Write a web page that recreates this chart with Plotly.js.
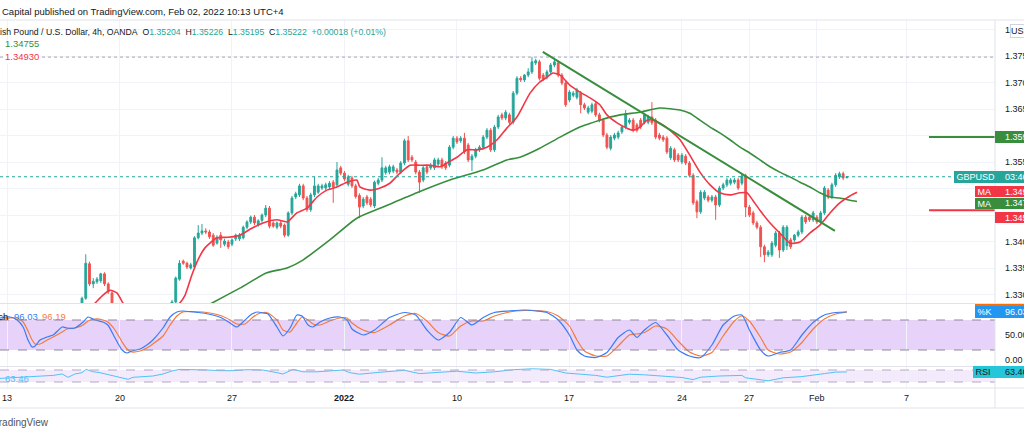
<!DOCTYPE html>
<html><head><meta charset="utf-8">
<script src="https://cdn.plot.ly/plotly-3.0.1.min.js"></script>
<style>html,body{margin:0;padding:0;background:#fff}#chart{width:1024px;height:435px}</style>
</head><body><div id="chart"></div>
<script>
// ---------------- DATA (4h candles, index 0 = first bar of Mon 13 Dec 2021) ----------------
const firstIndex = -1;
const opens = [
1.3255,1.3262,1.3248,1.3235,1.3229,1.3241,1.3254,1.3244,1.3228,1.3219,
1.3232,1.3247,1.3239,1.3225,1.3214,1.3205,1.3221,1.3243,1.3268,1.3259,
1.3251,1.3262,1.3293,1.3358,1.3320,1.3324,1.3326,1.3339,1.3320,1.3303,
1.3278,1.3262,1.3241,1.3225,1.3218,1.3205,1.3219,1.3236,1.3229,1.3247,
1.3252,1.3240,1.3258,1.3266,1.3261,1.3274,1.3286,1.3329,1.3363,1.3359,
1.3350,1.3352,1.3407,1.3416,1.3420,1.3418,1.3412,1.3397,1.3412,1.3395,
1.3399,1.3395,1.3405,1.3405,1.3407,1.3427,1.3437,1.3446,1.3431,1.3440,
1.3450,1.3463,1.3435,1.3427,1.3435,1.3431,1.3412,1.3454,1.3484,1.3488,
1.3505,1.3482,1.3460,1.3488,1.3493,1.3501,1.3501,1.3503,1.3512,1.3507,
1.3539,1.3529,1.3508,1.3520,1.3505,1.3487,1.3467,1.3484,1.3480,1.3467,
1.3510,1.3516,1.3530,1.3531,1.3533,1.3535,1.3531,1.3548,1.3590,1.3559,
1.3550,1.3531,1.3516,1.3541,1.3539,1.3539,1.3546,1.3554,1.3548,1.3544,
1.3578,1.3595,1.3590,1.3595,1.3582,1.3554,1.3561,1.3573,1.3578,1.3597,
1.3610,1.3573,1.3616,1.3639,1.3633,1.3639,1.3625,1.3680,1.3708,1.3705,
1.3714,1.3720,1.3737,1.3739,1.3714,1.3710,1.3720,1.3733,1.3737,1.3714,
1.3699,1.3667,1.3676,1.3672,1.3680,1.3658,1.3644,1.3646,1.3660,1.3639,
1.3629,1.3601,1.3576,1.3595,1.3597,1.3607,1.3616,1.3625,1.3629,1.3620,
1.3629,1.3625,1.3625,1.3635,1.3629,1.3601,1.3597,1.3595,1.3558,1.3573,
1.3563,1.3550,1.3561,1.3548,1.3525,1.3475,1.3456,1.3482,1.3484,1.3478,
1.3484,1.3469,1.3501,1.3507,1.3510,1.3512,1.3516,1.3510,1.3524,1.3465,
1.3454,1.3435,1.3427,1.3390,1.3375,1.3375,1.3393,1.3416,1.3384,1.3392,
1.3403,1.3403,1.3412,1.3418,1.3446,1.3446,1.3441,1.3446,1.3437,1.3454,
1.3497,1.3484,1.3507,1.3522,1.3528,1.35204];
const highs = [
1.3268,1.3270,1.3255,1.3240,1.3246,1.3258,1.3260,1.3249,1.3233,1.3237,
1.3251,1.3252,1.3243,1.3230,1.3219,1.3226,1.3248,1.3274,1.3272,1.3264,
1.3268,1.3296,1.3376,1.3362,1.3331,1.3333,1.3341,1.3342,1.3323,1.3306,
1.3282,1.3266,1.3245,1.3230,1.3222,1.3224,1.3240,1.3241,1.3252,1.3258,
1.3256,1.3262,1.3271,1.3270,1.3278,1.3290,1.3334,1.3365,1.3366,1.3362,
1.3360,1.3410,1.3431,1.3433,1.3425,1.3422,1.3416,1.3412,1.3418,1.3405,
1.3403,1.3406,1.3415,1.3416,1.3430,1.3440,1.3449,1.3450,1.3442,1.3453,
1.3469,1.3467,1.3438,1.3438,1.3439,1.3434,1.3457,1.3486,1.3494,1.3509,
1.3509,1.3486,1.3492,1.3522,1.3509,1.3509,1.3511,1.3514,1.3516,1.3550,
1.3543,1.3533,1.3526,1.3524,1.3509,1.3491,1.3484,1.3488,1.3484,1.3515,
1.3520,1.3559,1.3543,1.3545,1.3545,1.3539,1.3552,1.3594,1.3599,1.3563,
1.3554,1.3535,1.3543,1.3545,1.3548,1.3558,1.3558,1.3558,1.3552,1.3582,
1.3599,1.3599,1.3599,1.3605,1.3586,1.3565,1.3577,1.3582,1.3601,1.3614,
1.3614,1.3620,1.3639,1.3643,1.3648,1.3643,1.3684,1.3712,1.3712,1.3716,
1.3727,1.3748,1.3745,1.3743,1.3718,1.3724,1.3737,1.3746,1.3741,1.3718,
1.3703,1.3686,1.3684,1.3690,1.3684,1.3662,1.3656,1.3662,1.3664,1.3643,
1.3633,1.3605,1.3601,1.3605,1.3609,1.3620,1.3648,1.3633,1.3633,1.3624,
1.3633,1.3643,1.3639,1.3663,1.3633,1.3605,1.3601,1.3599,1.3580,1.3577,
1.3567,1.3567,1.3565,1.3552,1.3529,1.3479,1.3497,1.3497,1.3488,1.3488,
1.3488,1.3505,1.3511,1.3520,1.3520,1.3520,1.3520,1.3528,1.3528,1.3469,
1.3458,1.3439,1.3431,1.3394,1.3384,1.3401,1.3420,1.3420,1.3431,1.3431,
1.3407,1.3414,1.3422,1.3450,1.3450,1.3450,1.3458,1.3450,1.3458,1.3505,
1.3501,1.3511,1.3529,1.3532,1.3532,1.35226];
const lows = [
1.3248,1.3244,1.3230,1.3222,1.3225,1.3236,1.3240,1.3224,1.3212,1.3215,
1.3228,1.3234,1.3220,1.3208,1.3198,1.3200,1.3216,1.3238,1.3252,1.3245,
1.3247,1.3258,1.3290,1.3316,1.3312,1.3320,1.3322,1.3316,1.3301,1.3270,
1.3258,1.3236,1.3218,1.3211,1.3198,1.3201,1.3214,1.3224,1.3225,1.3242,
1.3236,1.3236,1.3253,1.3255,1.3257,1.3270,1.3283,1.3326,1.3356,1.3348,
1.3347,1.3349,1.3404,1.3412,1.3414,1.3405,1.3390,1.3394,1.3388,1.3391,
1.3386,1.3391,1.3401,1.3401,1.3404,1.3423,1.3433,1.3431,1.3428,1.3436,
1.3446,1.3425,1.3426,1.3423,1.3425,1.3408,1.3409,1.3450,1.3480,1.3484,
1.3478,1.3456,1.3456,1.3484,1.3490,1.3497,1.3497,1.3499,1.3473,1.3503,
1.3525,1.3514,1.3504,1.3501,1.3481,1.3444,1.3463,1.3469,1.3465,1.3463,
1.3506,1.3512,1.3526,1.3527,1.3529,1.3527,1.3527,1.3544,1.3550,1.3550,
1.3527,1.3492,1.3512,1.3527,1.3535,1.3535,1.3542,1.3537,1.3535,1.3540,
1.3574,1.3584,1.3586,1.3565,1.3550,1.3533,1.3557,1.3569,1.3574,1.3593,
1.3569,1.3569,1.3612,1.3629,1.3629,1.3621,1.3621,1.3676,1.3701,1.3701,
1.3710,1.3716,1.3733,1.3704,1.3703,1.3706,1.3716,1.3729,1.3710,1.3695,
1.3654,1.3663,1.3672,1.3668,1.3642,1.3648,1.3640,1.3642,1.3635,1.3625,
1.3597,1.3574,1.3572,1.3591,1.3593,1.3603,1.3612,1.3621,1.3606,1.3606,
1.3612,1.3621,1.3621,1.3620,1.3593,1.3591,1.3588,1.3565,1.3554,1.3550,
1.3550,1.3546,1.3544,1.3521,1.3469,1.3444,1.3452,1.3478,1.3474,1.3474,
1.3441,1.3465,1.3497,1.3503,1.3506,1.3508,1.3497,1.3506,1.3446,1.3446,
1.3431,1.3423,1.3371,1.3361,1.3371,1.3371,1.3389,1.3369,1.3380,1.3384,
1.3386,1.3399,1.3408,1.3414,1.3433,1.3437,1.3437,1.3433,1.3433,1.3450,
1.3480,1.3480,1.3503,1.3518,1.3516,1.35195];
const closes = [
1.3262,1.3248,1.3235,1.3229,1.3241,1.3254,1.3244,1.3228,1.3219,1.3232,
1.3247,1.3239,1.3225,1.3214,1.3205,1.3221,1.3243,1.3268,1.3259,1.3251,
1.3262,1.3293,1.3359,1.3320,1.3325,1.3329,1.3339,1.3320,1.3305,1.3278,
1.3262,1.3241,1.3225,1.3218,1.3205,1.3219,1.3236,1.3229,1.3247,1.3252,
1.3240,1.3258,1.3266,1.3261,1.3274,1.3286,1.3331,1.3359,1.3359,1.3352,
1.3356,1.3407,1.3416,1.3420,1.3418,1.3409,1.3393,1.3408,1.3403,1.3401,
1.3390,1.3403,1.3412,1.3412,1.3427,1.3437,1.3446,1.3435,1.3439,1.3450,
1.3463,1.3429,1.3429,1.3435,1.3429,1.3412,1.3454,1.3482,1.3490,1.3505,
1.3482,1.3460,1.3488,1.3505,1.3505,1.3505,1.3507,1.3510,1.3503,1.3535,
1.3529,1.3518,1.3522,1.3505,1.3485,1.3465,1.3480,1.3473,1.3469,1.3512,
1.3516,1.3539,1.3539,1.3541,1.3541,1.3531,1.3548,1.3590,1.3554,1.3554,
1.3531,1.3512,1.3539,1.3531,1.3544,1.3554,1.3554,1.3541,1.3539,1.3578,
1.3595,1.3588,1.3595,1.3569,1.3554,1.3561,1.3573,1.3578,1.3597,1.3610,
1.3573,1.3616,1.3635,1.3633,1.3644,1.3625,1.3680,1.3708,1.3705,1.3714,
1.3720,1.3739,1.3741,1.3708,1.3707,1.3720,1.3733,1.3739,1.3714,1.3699,
1.3658,1.3682,1.3680,1.3686,1.3658,1.3652,1.3652,1.3658,1.3639,1.3629,
1.3601,1.3578,1.3597,1.3601,1.3605,1.3616,1.3641,1.3629,1.3610,1.3610,
1.3616,1.3639,1.3635,1.3624,1.3597,1.3595,1.3592,1.3569,1.3576,1.3554,
1.3554,1.3563,1.3548,1.3525,1.3473,1.3456,1.3493,1.3493,1.3478,1.3484,
1.3469,1.3501,1.3507,1.3516,1.3516,1.3516,1.3501,1.3524,1.3465,1.3450,
1.3435,1.3427,1.3390,1.3375,1.3380,1.3397,1.3416,1.3384,1.3427,1.3427,
1.3390,1.3412,1.3418,1.3446,1.3437,1.3441,1.3454,1.3437,1.3454,1.3501,
1.3484,1.3507,1.3525,1.3528,1.3520,1.35222];

// Moving averages (bar index, price)
const maFastIdx = [21.6,23.5,25.6,27.5,29.3,30.9,32.8,38.1,43.5,46.1,47.5,49.3,50.9,52.8,56,58.9,62.1,65.3,68.3,72,74.7,77.3,80,82.7,85.3,88,90.7,93.3,94.1,96.8,99.5,102.1,104.8,107.5,110.1,112.8,115.5,117.3,120,122.7,125.3,128,130.7,133.3,136,139.5,142.1,144,145.6,147.5,150.1,152.8,155.5,158.1,160,162.7,165.3,166.9,168.8,170.7,172.3,174.9,177.6,179.5,182.1,184.8,187.5,190.1,192.8,195.5,197.3,198.9,200.8,203.5,206.1,208.8,211.5,214.1,216.8,219.5,222.1,224.8,226.7];
const maFastVal = [1.3271,1.3284,1.3299,1.3308,1.3303,1.3284,1.3261,1.3252,1.3267,1.3284,1.3299,1.3337,1.3365,1.3388,1.3407,1.3408,1.3412,1.3425,1.3435,1.3441,1.3437,1.3454,1.3463,1.3484,1.3497,1.3503,1.3512,1.3516,1.3503,1.3497,1.3501,1.3510,1.3529,1.3544,1.3544,1.3544,1.3541,1.3548,1.3559,1.3573,1.3573,1.3578,1.3592,1.3614,1.3635,1.3680,1.3701,1.3710,1.3718,1.3714,1.3695,1.3682,1.3671,1.3658,1.3639,1.3624,1.3614,1.3610,1.3616,1.3629,1.3629,1.3620,1.3605,1.3592,1.3563,1.3531,1.3507,1.3492,1.3488,1.3492,1.3492,1.3478,1.3459,1.3435,1.3416,1.3397,1.3399,1.3416,1.3431,1.3454,1.3473,1.3486,1.3493];
const maSlowIdx = [51.5,54.7,62.1,69.3,74.7,78.9,86.1,93.3,100.3,109.3,118.1,126.9,133.3,136.8,142.1,147.5,152.8,158.1,163.5,168.8,174.1,179.5,182.1,184.8,187.5,190.1,192.8,195.5,198.1,200.8,203.5,206.1,208.8,211.5,214.1,216.8,219.5,222.1,224.8,226.7];
const maSlowVal = [1.3271,1.3284,1.3312,1.3341,1.3350,1.3365,1.3403,1.3444,1.3465,1.3492,1.3516,1.3535,1.3554,1.3559,1.3576,1.3597,1.3616,1.3629,1.3639,1.3644,1.3652,1.3648,1.3642,1.3629,1.3616,1.3605,1.3592,1.3578,1.3567,1.3554,1.3541,1.3531,1.3522,1.3512,1.3503,1.3492,1.3484,1.3482,1.3478,1.34755];

// Stochastic %K / %D (bar index, value)
const stochIdx = [-1.9,0.8,2.7,4.3,5.6,6.7,7.5,8.8,10.7,12.3,14.7,16,18.1,20.3,21.6,23.5,25.6,26.9,28.8,30.7,32,33.3,35.5,37.3,38.9,41.6,43.5,45.3,46.9,49.6,52.3,54.9,57.3,59.5,61.3,63.5,65.3,66.9,68.3,69.6,72,73.6,75.5,77.3,78.7,80.3,81.6,83.5,86.1,88.8,90.7,92,
95,98,102,106,109,112,115,118,121,124,127,130,134,138,141,144,147,150,152,154,157,160,163,166,168,170,173,176,179,182,185,188,191,194,196,198,201,203,206,209,212,215,218,221,224];
const stochK = [84,86,80,66,40,26,28,40,46,50,66,64,64,76,86,80,76,70,44,20,14,18,22,30,40,64,86,96,98,96,94,90,84,74,66,80,92,96,94,92,66,48,64,90,88,70,66,76,84,86,80,62,
50,60,85,95,90,60,40,55,85,70,85,95,98,100,98,95,80,50,20,8,5,15,45,60,45,60,75,50,20,8,5,30,70,88,90,60,20,8,15,20,50,75,90,95,96.03];
const stochD = [80,84,84,76,58,40,32,32,40,46,56,62,64,70,78,82,80,76,60,36,22,16,18,24,32,48,70,88,96,97,96,93,88,80,72,72,84,92,95,94,80,60,56,74,86,80,72,70,78,84,84,74,
60,55,70,88,93,78,55,48,68,78,78,88,96,99,99,97,88,68,40,18,8,8,28,50,52,55,68,62,38,16,8,15,48,78,88,78,45,20,12,16,35,62,82,92,96.19];

// RSI (bar index, value)
const rsiIdx = [-1.9,3.5,8.8,12.3,14.7,16.3,18.1,20,21.1,22.9,24.8,26.7,29.3,31.5,32.3,33.6,36.3,38.9,41.6,44.3,46.1,49.6,53.3,56.8,60.3,64,68.3,72,73.6,76.3,78.9,82.7,86.1,89.6,91.5,
94,100,106,110,115,120,125,130,135,140,145,149,153,157,160,163,166,170,174,177,180,183,185,190,196,197,201,203,207,212,218,221,224];
const rsiVal = [42,45.6,47.8,52,56.7,45.6,56.7,61,72,64.4,61,55.6,48,42,38.9,45.6,47.8,50,56.7,67.8,72,72,70,67.8,67.8,71,70,61,56.7,72,64,64,68,70,61,
56,63,69,58,61,66,60,64,71,74,72,60,56,52,46,52,56,54,50,46,45,38,46,50,52,44,36,34,44,48,58,63,63.46];

// Drawn trend line and levels
const trendIdx = [142.9, 220.8];
const trendVal = [1.3758, 1.3420];
const levelStartIdx = 245.9;
const resistance = 1.3597;
const support = 1.3459;
const lastPrice = 1.35222;
const highLine = 1.3748;

// Axis labels
const xTickIdx = [0,30,60,90,120,150,180,198,216,240];
const xTickText = ['13','20','27','<b>2022</b>','10','17','24','27','Feb','7'];
const priceTicks = [1.380,1.375,1.370,1.365,1.360,1.355,1.350,1.345,1.340,1.335,1.330];
const stochTicks = [100,50,0];

// ---------------- LAYOUT ----------------
const FONT = 'Liberation Sans, Arial, sans-serif';
const PW = 995, TOP = 20, BOT = 388, PH = BOT - TOP;
const XR = [-1.87, 263.5];
const px = v => v / PW;
const py = v => (BOT - v) / PH;
const candleX = opens.map((_, i) => firstIndex + i);

const traces = [
  {type:'candlestick', x:candleX, open:opens, high:highs, low:lows, close:closes,
   increasing:{line:{color:'#26a69a', width:1}, fillcolor:'#26a69a'},
   decreasing:{line:{color:'#ef5350', width:1}, fillcolor:'#ef5350'},
   whiskerwidth:0, hoverinfo:'skip', xaxis:'x', yaxis:'y'},
  {type:'scatter', mode:'lines', x:maSlowIdx, y:maSlowVal, line:{color:'#388e3c', width:1.6, shape:'spline', smoothing:0.6}, hoverinfo:'skip', xaxis:'x', yaxis:'y'},
  {type:'scatter', mode:'lines', x:maFastIdx, y:maFastVal, line:{color:'#f23645', width:1.6, shape:'spline', smoothing:0.6}, hoverinfo:'skip', xaxis:'x', yaxis:'y'},
  {type:'scatter', mode:'lines', x:stochIdx, y:stochD, line:{color:'#f47b3f', width:1.2, shape:'spline', smoothing:0.6}, hoverinfo:'skip', xaxis:'x', yaxis:'y2'},
  {type:'scatter', mode:'lines', x:stochIdx, y:stochK, line:{color:'#3b7cf5', width:1.2, shape:'spline', smoothing:0.6}, hoverinfo:'skip', xaxis:'x', yaxis:'y2'},
  {type:'scatter', mode:'lines', x:rsiIdx, y:rsiVal, line:{color:'#4fc3f7', width:1}, hoverinfo:'skip', xaxis:'x', yaxis:'y3'}
];

const sepColor = '#e0e3eb';
const shapes = [
  {type:'rect', xref:'x', yref:'y2', x0:XR[0], x1:XR[1], y0:20, y1:80, fillcolor:'#e7d3fa', line:{width:0}, layer:'below'},
  {type:'line', xref:'x', yref:'y2', x0:XR[0], x1:XR[1], y0:80, y1:80, line:{color:'#8f8899', width:1, dash:'dash'}},
  {type:'line', xref:'x', yref:'y2', x0:XR[0], x1:XR[1], y0:20, y1:20, line:{color:'#8f8899', width:1, dash:'dash'}},
  {type:'rect', xref:'x', yref:'y3', x0:XR[0], x1:XR[1], y0:30, y1:70, fillcolor:'#f3eafc', line:{width:0}, layer:'below'},
  {type:'line', xref:'x', yref:'y3', x0:XR[0], x1:XR[1], y0:70, y1:70, line:{color:'#b4a8c4', width:1, dash:'dash'}},
  {type:'line', xref:'x', yref:'y3', x0:XR[0], x1:XR[1], y0:30, y1:30, line:{color:'#b4a8c4', width:1, dash:'dash'}},
  {type:'line', xref:'x', yref:'y', x0:XR[0], x1:XR[1], y0:highLine, y1:highLine, line:{color:'#a3a6af', width:1, dash:'dot'}},
  {type:'line', xref:'x', yref:'y', x0:XR[0], x1:XR[1], y0:lastPrice, y1:lastPrice, line:{color:'#26a69a', width:1, dash:'dot'}},
  {type:'line', xref:'x', yref:'y', x0:trendIdx[0], x1:trendIdx[1], y0:trendVal[0], y1:trendVal[1], line:{color:'#388e3c', width:2}},
  {type:'line', xref:'x', yref:'y', x0:levelStartIdx, x1:XR[1], y0:resistance, y1:resistance, line:{color:'#388e3c', width:2}},
  {type:'line', xref:'x', yref:'y', x0:levelStartIdx, x1:XR[1], y0:support, y1:support, line:{color:'#f23645', width:2}},
  {type:'line', xref:'paper', yref:'paper', x0:0, x1:px(1024), y0:py(20), y1:py(20), line:{color:sepColor, width:1}},
  {type:'line', xref:'paper', yref:'paper', x0:0, x1:px(1024), y0:py(303.5), y1:py(303.5), line:{color:sepColor, width:1}},
  {type:'line', xref:'paper', yref:'paper', x0:0, x1:px(1024), y0:py(366.5), y1:py(366.5), line:{color:sepColor, width:1}},
  {type:'line', xref:'paper', yref:'paper', x0:0, x1:px(1024), y0:py(388), y1:py(388), line:{color:sepColor, width:1}},
  {type:'line', xref:'paper', yref:'paper', x0:0, x1:px(1024), y0:py(408), y1:py(408), line:{color:sepColor, width:1}},
  {type:'line', xref:'paper', yref:'paper', x0:1, x1:1, y0:py(20), y1:py(408), line:{color:sepColor, width:1}}
];

const ann = [];
const T = (x, y, text, color, opts) => ann.push(Object.assign({xref:'paper', yref:'paper', x:px(x), y:py(y), text:text, showarrow:false, xanchor:'left', yanchor:'middle', font:{family:FONT, size:9, color:color || '#131722'}}, opts || {}));

T(0, 11, 'Capital published on TradingView.com, Feb 02, 2022 10:13 UTC+4', '#131722', {font:{family:FONT, size:9.5, color:'#131722'}});
const up = '#26a69a';
const sp = '\u00a0 ';
T(0, 32, 'British Pound / U.S. Dollar, 4h, OANDA'+sp+'O<span style="color:'+up+'">1.35204</span>'+sp+'H<span style="color:'+up+'">1.35226</span>'+sp+'L<span style="color:'+up+'">1.35195</span>'+sp+'C<span style="color:'+up+'">1.35222</span>'+sp+'<span style="color:'+up+'">+0.00018 (+0.01%)</span>', '#131722', {xshift:-15, font:{family:FONT, size:8.7, color:'#131722'}});
T(3, 44, '1.34755', '#388e3c', {font:{family:FONT, size:9.5, color:'#388e3c'}});
T(3, 57, '1.34930', '#f23645', {bgcolor:'#ffffff', font:{family:FONT, size:9.5, color:'#f23645'}});
T(10, 316, 'Stoch', '#131722', {xanchor:'right', font:{family:FONT, size:9.5, color:'#131722'}});
T(12, 316, '96.03', '#3b7cf5', {font:{family:FONT, size:9.5, color:'#3b7cf5'}});
T(40, 316, '96.19', '#f47b3f', {font:{family:FONT, size:9.5, color:'#f47b3f'}});
T(3, 378, '63.46', '#4fc3f7', {font:{family:FONT, size:9.5, color:'#4fc3f7'}});
T(51, 422, 'TradingView', '#50535e', {xanchor:'right', font:{family:FONT, size:10, color:'#50535e'}});

xTickIdx.forEach((v, i) => ann.push({xref:'x', yref:'paper', x:v, y:py(398), text:xTickText[i], showarrow:false, xanchor:'center', yanchor:'middle', font:{family:FONT, size:9, color:'#131722'}}));
priceTicks.forEach(p => ann.push({xref:'paper', yref:'y', x:px(1003), y:p, text:p.toFixed(5), showarrow:false, xanchor:'left', yanchor:'middle', font:{family:FONT, size:9, color:'#131722'}}));
stochTicks.forEach(p => ann.push({xref:'paper', yref:'y2', x:px(1003), y:p, text:p.toFixed(2), showarrow:false, xanchor:'left', yanchor:'middle', font:{family:FONT, size:9, color:'#131722'}}));

const boxes = [
  {x:1010, y:31, w:22, h:12, bg:'#ffffff', border:'#d1d4dc', label:'USD', value:'', fc:'#131722'},
  {x:995, y:136.5, w:40, h:12, bg:'#388e3c', label:'', value:'1.35970', fc:'#ffffff'},
  {x:954, y:177, w:80, h:12, bg:'#26a69a', label:'\u00a0GBPUSD', value:'03:46', fc:'#ffffff'},
  {x:975, y:191.5, w:60, h:11, bg:'#f23645', label:'\u00a0MA', value:'1.34930', fc:'#ffffff'},
  {x:975, y:203, w:60, h:11, bg:'#388e3c', label:'\u00a0MA', value:'1.34755', fc:'#ffffff'},
  {x:995, y:217.5, w:40, h:11, bg:'#f23645', label:'', value:'1.34590', fc:'#ffffff'},
  {x:975, y:310, w:60, h:12, bg:'#ff6d00', label:'', value:'', fc:'#ffffff'},
  {x:975, y:311.5, w:60, h:12, bg:'#2196f3', label:'\u00a0%K', value:'96.03', fc:'#ffffff'},
  {x:973, y:372, w:60, h:12, bg:'#26c6da', label:'\u00a0RSI', value:'63.46', fc:'#131722'}
];
boxes.forEach(b => {
  T(b.x, b.y, b.label || '\u00a0', b.fc, {width:b.w, height:b.h, align:'left', bgcolor:b.bg, bordercolor:b.border || b.bg, borderwidth:b.border ? 1 : 0, borderpad:0});
  if (b.value) T(1003, b.y, b.value, b.fc);
});

const layout = {
  width:1024, height:435,
  margin:{l:0, r:29, t:20, b:47, pad:0},
  paper_bgcolor:'#ffffff', plot_bgcolor:'#ffffff',
  showlegend:false, dragmode:false, hovermode:false,
  font:{family:FONT, size:9, color:'#131722'},
  xaxis:{range:XR, tickvals:xTickIdx, showticklabels:false, ticks:'', showgrid:true, gridcolor:'#f0f3fa', gridwidth:1, zeroline:false, showline:false, anchor:'y3', rangeslider:{visible:false}, fixedrange:true},
  yaxis:{domain:[85/PH, 1], range:[1.3284, 1.3818], tickvals:priceTicks, showticklabels:false, ticks:'', showgrid:true, gridcolor:'#f0f3fa', zeroline:false, showline:false, fixedrange:true},
  yaxis2:{domain:[22/PH, 84/PH], range:[-12, 112], showticklabels:false, showgrid:false, zeroline:false, fixedrange:true},
  yaxis3:{domain:[0, 21/PH], range:[10, 80], showticklabels:false, showgrid:false, zeroline:false, fixedrange:true},
  shapes:shapes, annotations:ann
};
Plotly.newPlot('chart', traces, layout, {staticPlot:true, displayModeBar:false});
</script></body></html>
